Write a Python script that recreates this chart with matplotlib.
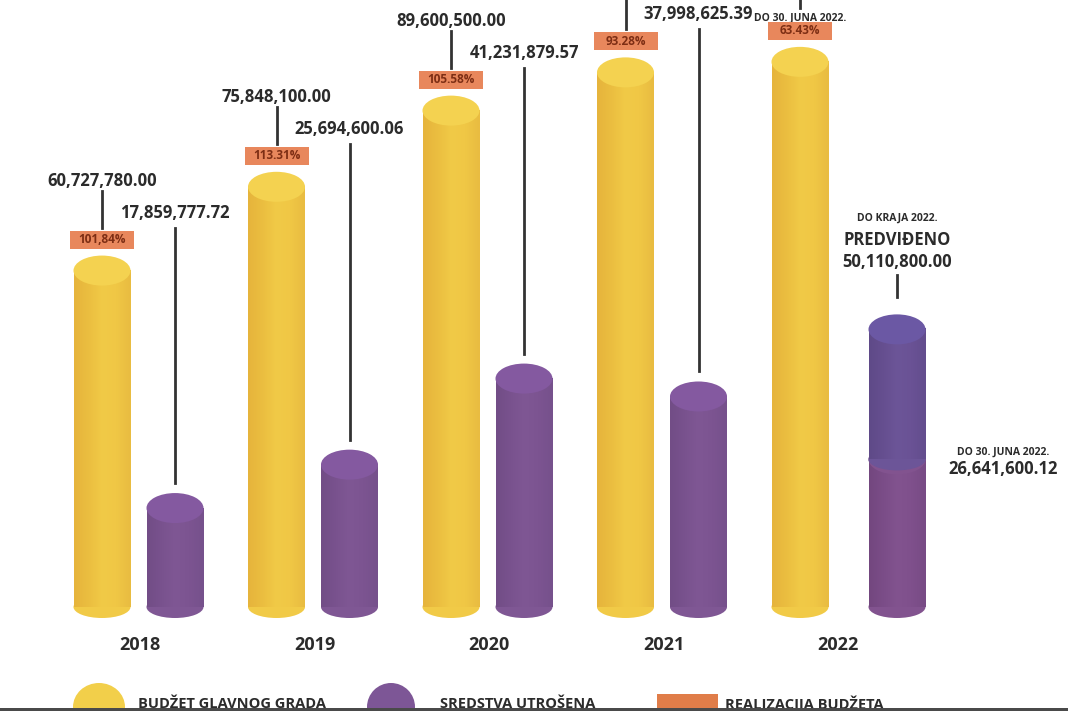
import numpy as np
import matplotlib
matplotlib.use("Agg")
from matplotlib import pyplot as plt
from matplotlib.patches import Ellipse, Rectangle
from matplotlib.colors import to_rgb

# values read from the infographic (2021/2022 budgets are cut off at the top, estimated from height)
years = ["2018", "2019", "2020", "2021", "2022"]
budget = [60727780.00, 75848100.00, 89600500.00, 96500000.00, 98400000.00]
budget_shown = [True, True, True, False, False]   # labels above the picture edge
spent = [17859777.72, 25694600.06, 41231879.57, 37998625.39, 50110800.00]
spent_june_2022 = 26641600.12
realization = ["101,84%", "113.31%", "105.58%", "93.28%", "63.43%"]
legend_labels = ["BUDŽET GLAVNOG GRADA", "SREDSTVA UTROŠENA", "REALIZACIJA BUDŽETA"]

plt.rcParams['font.family'] = ['Open Sans', 'DejaVu Sans']

K = 5.54          # pixels per million
BASE = 607        # pixel row of the baseline
W = 57            # cylinder width (px)
EH = 30 / K       # ellipse height in data units
TXT = "#2b2b2b"


def up(px):
    return px / K


def Y(ypx):
    # pixel row -> data value
    return (BASE - ypx) / K


def body(ax, x, y0, y1, cols, z):
    grad = np.array([to_rgb(c) for c in cols])
    t = np.linspace(0, 1, 40)
    xs = np.linspace(0, 1, len(cols))
    img = np.stack([np.interp(t, xs, grad[:, k]) for k in range(3)], axis=-1)[None, :, :]
    ax.imshow(img, extent=(x - W / 2, x + W / 2, y0, y1), aspect="auto",
              interpolation="bicubic", zorder=z)


def cylinder(ax, x, y0, y1, cols, top, z=2):
    ax.add_patch(Ellipse((x, y0), W, up(22), fc=cols[len(cols) // 2], ec="none", zorder=z))
    body(ax, x, y0, y1, cols, z + 0.1)
    ax.add_patch(Ellipse((x, y1), W, EH, fc=top, ec="none", zorder=z + 0.2))


yellow = ["#e6b43c", "#ebbe40", "#f1ca47", "#f0c745", "#e9bc41"]
yellow_top = "#f4d250"
purple = ["#724d86", "#79528e", "#7f5794", "#7c5491", "#76518c"]
purple_top = "#8459a0"
blue = ["#5f4a88", "#664f90", "#6c5598", "#6a5295", "#634d8d"]
blue_top = "#6b58a4"
magenta = ["#73477f", "#7b4d88", "#82538f", "#7f508c", "#784b85"]

fig = plt.figure(figsize=(10.68, 7.11), dpi=100)
ax = fig.add_axes([0, 0, 1, 1])
ax.set_xlim(0, 1068)
ax.set_ylim(Y(711), Y(0))
ax.axis("off")

for i, yr in enumerate(years):
    xb = 102 + 174.5 * i
    xs = xb + (97 if i == 4 else 73)
    b = budget[i] / 1e6
    s = spent[i] / 1e6

    cylinder(ax, xb, 0, b, yellow, yellow_top)

    if i == 4:
        j = spent_june_2022 / 1e6
        cylinder(ax, xs, 0, j, magenta, magenta[2])
        cylinder(ax, xs, j, s, blue, blue_top, z=4)
    else:
        cylinder(ax, xs, 0, s, purple, purple_top)

    # realization box
    by = b + up(31)
    ax.add_patch(Rectangle((xb - 32, by - up(9)), 64, up(18), fc="#e8875c", ec="none", zorder=5))
    ax.text(xb, by, realization[i], ha="center", va="center", fontsize=8.5,
            fontweight="bold", color="#7d2e14", zorder=6)

    ly = b + up(90)
    if budget_shown[i]:
        ax.text(xb, ly, f"{budget[i]:,.2f}", ha="center", va="center", fontsize=12,
                fontweight="bold", color=TXT)

    if i < 4:
        ax.plot([xb, xb], [ly - up(10), by + up(12)], color="#333333", lw=2)
        sy = ly - up(32)
        ax.text(xs, sy, f"{spent[i]:,.2f}", ha="center", va="center", fontsize=12,
                fontweight="bold", color=TXT)
        ax.plot([xs, xs], [sy - up(15), s + up(25)], color="#333333", lw=2)
    else:
        ax.text(xb, b + up(44), "DO 30. JUNA 2022.", ha="center", va="center",
                fontsize=7.5, fontweight="bold", color=TXT)
        ax.plot([xb, xb], [ly - up(10), b + up(54)], color="#333333", lw=2)
        # planned spending until end of year
        ax.text(xs, s + up(111), "DO KRAJA 2022.", ha="center", va="center",
                fontsize=7.5, fontweight="bold", color=TXT)
        ax.text(xs, s + up(89), "PREDVIĐENO", ha="center", va="center",
                fontsize=12, fontweight="bold", color=TXT)
        ax.text(xs, s + up(67), f"{spent[i]:,.2f}", ha="center", va="center",
                fontsize=12, fontweight="bold", color=TXT)
        ax.plot([xs, xs], [s + up(54), s + up(32)], color="#333333", lw=2)
        j = spent_june_2022 / 1e6
        ax.text(xs + 106, j + up(7), "DO 30. JUNA 2022.", ha="center", va="center",
                fontsize=7.5, fontweight="bold", color=TXT)
        ax.text(xs + 106, j - up(10), f"{spent_june_2022:,.2f}", ha="center", va="center",
                fontsize=12, fontweight="bold", color=TXT)

    ax.text(xb + 38, Y(645), yr, ha="center", va="center", fontsize=13,
            fontweight="bold", color=TXT)

# legend (cut off at the bottom in the original)
ax.add_patch(Ellipse((99, Y(707)), 52, up(48), fc="#f2cf4a", ec="none"))
ax.add_patch(Ellipse((391, Y(707)), 48, up(48), fc="#7d5696", ec="none"))
ax.add_patch(Rectangle((657, Y(720)), 61, up(26), fc="#e07d49", ec="none"))
for x, lab in zip([138, 440, 725], legend_labels):
    ax.text(x, Y(704), lab, ha="left", va="center", fontsize=10.5,
            fontweight="bold", color=TXT)

fig.patches.append(Rectangle((0, 0), 1, 3 / 711, transform=fig.transFigure,
                             fc="#4a4a4a", ec="none", zorder=10))

fig.savefig("out.png", dpi=100)
